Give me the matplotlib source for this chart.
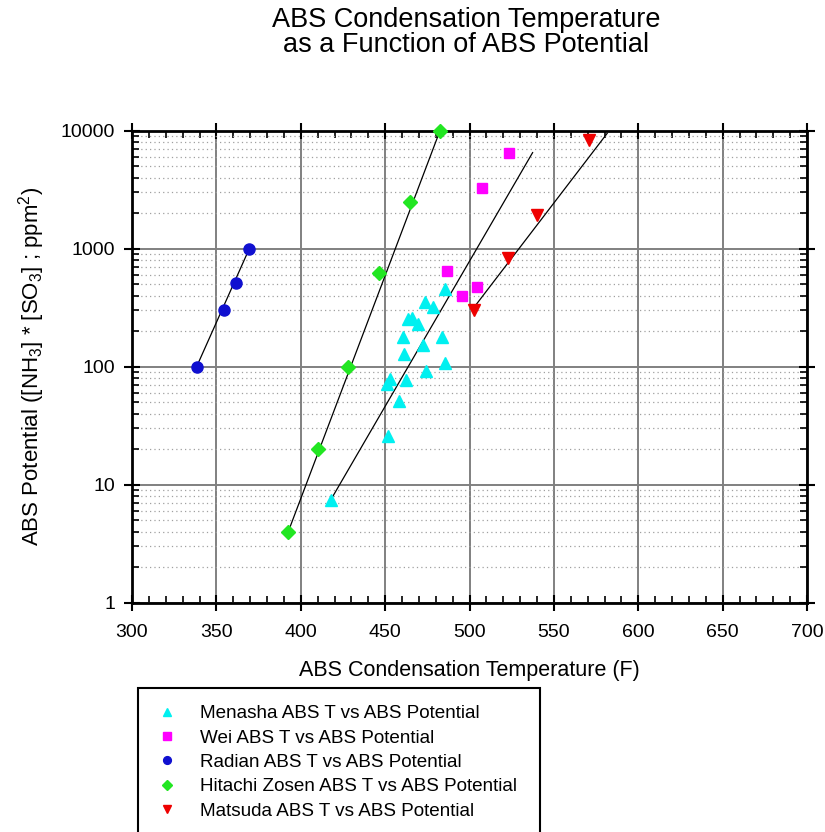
import numpy as np
import matplotlib
matplotlib.use("Agg")
import matplotlib.pyplot as plt
from matplotlib.ticker import MultipleLocator, LogLocator, NullFormatter, FixedLocator
from matplotlib.patches import Rectangle

plt.rcParams['font.family'] = ['Liberation Sans', 'DejaVu Sans']
plt.rcParams['mathtext.fontset'] = 'custom'
plt.rcParams['mathtext.rm'] = 'Liberation Sans'
plt.rcParams['mathtext.it'] = 'Liberation Sans:italic'

# donnees
menasha_T = [417.7, 451.5, 458.4, 450.9, 452.7, 462.6, 474.0, 485.5, 461.4,
             472.6, 460.4, 483.5, 469.7, 463.8, 466.2, 478.2, 473.8, 485.5]
menasha_P = [7.4, 26, 51.5, 71, 79, 77, 92.5, 107, 128,
             153, 180, 180, 228, 252, 257, 323, 356, 455]
wei_T = [486.5, 495.7, 504.6, 507.4, 523.6]
wei_P = [650, 400, 477, 3290, 6430]
radian_T = [338.3, 354.5, 361.4, 369.5]
radian_P = [100, 302, 509, 1000]
hitachi_T = [392.6, 410.4, 428.2, 446.6, 464.7, 482.5]
hitachi_P = [4, 20, 100, 626, 2500, 10000]
matsuda_T = [502.9, 522.6, 540.2, 571.0]
matsuda_P = [303, 840, 1930, 8340]

# droites de regression (extremites lues)
fit_radian_T, fit_radian_P = [338.3, 369.5], [100, 1000]
fit_hitachi_T, fit_hitachi_P = [392.6, 482.5], [4, 10000]
fit_menasha_T, fit_menasha_P = [417.7, 537.4], [7.4, 6520]
fit_matsuda_T, fit_matsuda_P = [501.3, 581.6], [300, 9500]

fig = plt.figure(figsize=(8.25, 8.32), dpi=100)
W, H = 825, 832
ax = fig.add_axes([132 / W, 1 - 602.7 / H, (807 - 132) / W, (602.7 - 130.7) / H])

ax.set_yscale('log')
ax.set_xlim(300, 700)
ax.set_ylim(1, 10000)

# grille
ax.set_axisbelow(True)
ax.grid(True, which='major', color='#808080', lw=1.4, ls='-')
ax.grid(True, which='minor', axis='y', color='#a0a0a0', lw=0.9, ls=(0, (1, 2.5)))

for fx, fy in [(fit_radian_T, fit_radian_P), (fit_hitachi_T, fit_hitachi_P),
               (fit_menasha_T, fit_menasha_P), (fit_matsuda_T, fit_matsuda_P)]:
    ax.plot(fx, fy, color='black', lw=0.9, zorder=3)

h1, = ax.plot(menasha_T, menasha_P, ls='none', marker='^', ms=8.5, color='#00f0f0',
              label='Menasha ABS T vs ABS Potential', zorder=4, clip_on=False)
h2, = ax.plot(wei_T, wei_P, ls='none', marker='s', ms=7.5, color='#ff00ff',
              label='Wei ABS T vs ABS Potential', zorder=4, clip_on=False)
h3, = ax.plot(radian_T, radian_P, ls='none', marker='o', ms=8, color='#1010d0',
              label='Radian ABS T vs ABS Potential', zorder=4, clip_on=False)
h4, = ax.plot(hitachi_T, hitachi_P, ls='none', marker='D', ms=7.5, color='#22e622',
              label='Hitachi Zosen ABS T vs ABS Potential', zorder=4, clip_on=False)
h5, = ax.plot(matsuda_T, matsuda_P, ls='none', marker='v', ms=8.5, color='#ee0000',
              label='Matsuda ABS T vs ABS Potential', zorder=4, clip_on=False)

# axes et graduations
for s in ax.spines.values():
    s.set_linewidth(2)
ax.xaxis.set_major_locator(MultipleLocator(50))
ax.xaxis.set_minor_locator(MultipleLocator(10))
ax.yaxis.set_major_locator(FixedLocator([1, 10, 100, 1000, 10000]))
ax.yaxis.set_major_formatter(plt.FuncFormatter(lambda v, p: '%d' % v))
ax.yaxis.set_minor_locator(LogLocator(base=10, subs=np.arange(2, 10)))
ax.yaxis.set_minor_formatter(NullFormatter())
ax.tick_params(which='major', direction='inout', length=12, width=1.5,
               top=True, right=True, labelsize=14)
ax.tick_params(axis='x', which='major', pad=9)
ax.tick_params(axis='y', which='major', pad=6)
ax.tick_params(which='minor', direction='in', length=5, width=1.2,
               top=True, right=True)

ax.set_xlabel('ABS Condensation Temperature (F)', fontsize=15.5, labelpad=14)
ax.set_ylabel(r'ABS Potential ([NH$_3$] * [SO$_3$] ; ppm$^2$)', fontsize=16, labelpad=10)

fig.text(466 / W, 1 - 20 / H, 'ABS Condensation Temperature', ha='center', va='center', fontsize=19.5)
fig.text(466 / W, 1 - 45 / H, 'as a Function of ABS Potential', ha='center', va='center', fontsize=19.5)

# legende
leg = fig.legend(handles=[h1, h2, h3, h4, h5], loc='upper left',
                 bbox_to_anchor=(158 / W, 1 - 705 / H), frameon=False,
                 fontsize=13.6, markerscale=0.7, handlelength=1.0,
                 handletextpad=1.2, labelspacing=0.38, borderpad=0, borderaxespad=0)
fig.patches.append(Rectangle((138 / W, -0.02), (540 - 138) / W, 1 - 688 / H + 0.02,
                             transform=fig.transFigure, fill=False, ec='black', lw=1.5))

fig.savefig('out.png', dpi=100)
